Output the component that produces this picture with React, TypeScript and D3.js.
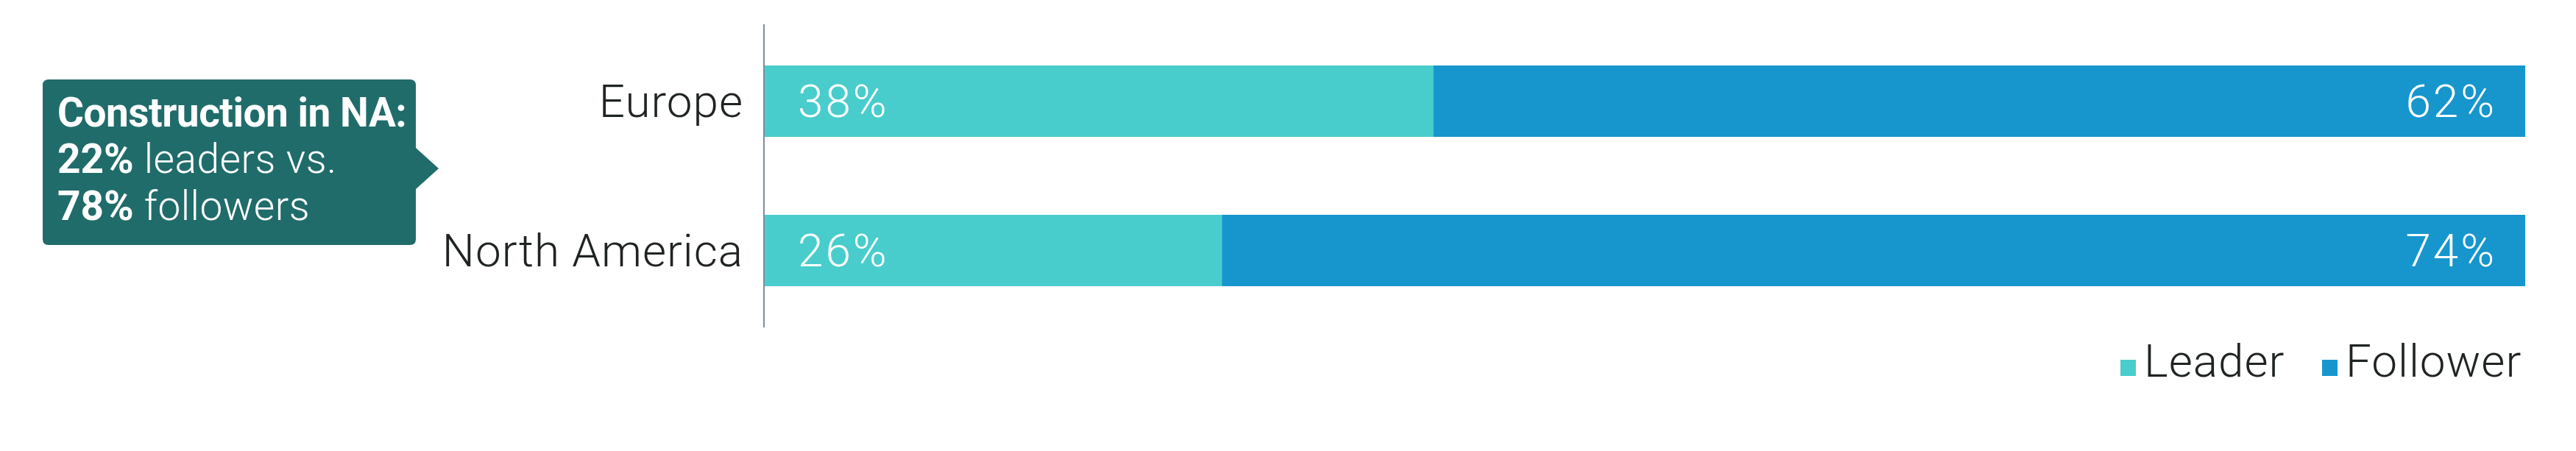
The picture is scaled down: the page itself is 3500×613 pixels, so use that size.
import * as d3 from "d3";
import React, { useEffect, useRef } from "react";

const categories = ["Europe", "North America"];
const seriesNames = ["Leader", "Follower"];
const leaderValues = [38, 26];
const followerValues = [62, 74];
const seriesColors = ["#48cdcc", "#1696cd"];
const calloutBold = ["Construction in NA:", "22%", "78%"];
const calloutRest = ["", " leaders vs.", " followers"];

const FONT = "Roboto, 'Liberation Sans', sans-serif";

export default function App() {
  const svgRef = useRef<SVGSVGElement>(null);

  const width = 3500;
  const height = 613;
  const marginLeft = 1038;
  const marginRight = 69;

  useEffect(() => {
    if (!svgRef.current) return;
    const svg = d3.select(svgRef.current);
    svg.selectAll("*").remove();

    const x = d3.scaleLinear([0, 100], [marginLeft, width - marginRight]);
    const y = d3
      .scaleBand<string>()
      .domain(categories)
      .range([33, 445])
      .paddingInner(0.522)
      .paddingOuter(0.276);

    // stacked data
    const rows = categories.map((c, i) => ({
      category: c,
      Leader: leaderValues[i],
      Follower: followerValues[i],
    }));
    const stacked = d3.stack<any>().keys(seriesNames)(rows);

    const layers = svg
      .append("g")
      .selectAll("g")
      .data(stacked)
      .join("g")
      .attr("fill", (_, i) => seriesColors[i]);

    layers
      .selectAll("rect")
      .data((d) => d)
      .join("rect")
      .attr("x", (d) => x(d[0]))
      .attr("width", (d) => x(d[1]) - x(d[0]))
      .attr("y", (d: any) => y(d.data.category)!)
      .attr("height", y.bandwidth());

    // value labels
    const labels = svg
      .append("g")
      .attr("font-family", FONT)
      .attr("font-weight", 300)
      .attr("font-size", 62)
      .attr("letter-spacing", 3)
      .attr("fill", "#fff");
    rows.forEach((r) => {
      const cy = y(r.category)! + y.bandwidth() / 2;
      labels
        .append("text")
        .attr("x", x(0) + 46)
        .attr("y", cy)
        .attr("dy", "0.35em")
        .text(`${r.Leader}%`);
      labels
        .append("text")
        .attr("x", x(100) - 39)
        .attr("y", cy)
        .attr("dy", "0.35em")
        .attr("text-anchor", "end")
        .text(`${r.Follower}%`);
    });

    // y axis
    svg
      .append("g")
      .attr("transform", `translate(${marginLeft},0)`)
      .call(d3.axisLeft(y).tickSize(0).tickPadding(28))
      .call((g) => g.select(".domain").attr("stroke", "#7b8da0").attr("stroke-width", 2).attr("d", "M0,33V445"))
      .call((g) =>
        g
          .selectAll(".tick text")
          .attr("font-family", FONT)
          .attr("font-weight", 300)
          .attr("font-size", 62)
          .attr("letter-spacing", 1)
          .attr("fill", "#1f2420")
          .attr("dy", "0.35em")
      );

    // legend
    const legendX = [2881, 3155];
    const legend = svg.append("g");
    seriesNames.forEach((s, i) => {
      legend
        .append("rect")
        .attr("x", legendX[i])
        .attr("y", 489)
        .attr("width", 21)
        .attr("height", 22)
        .attr("fill", seriesColors[i]);
      legend
        .append("text")
        .attr("x", legendX[i] + 32)
        .attr("y", 512)
        .attr("font-family", FONT)
        .attr("font-weight", 300)
        .attr("font-size", 62)
        .attr("letter-spacing", 1)
        .attr("fill", "#1f2420")
        .text(s);
    });

    // callout box
    const box = svg.append("g");
    box
      .append("path")
      .attr("fill", "#206c6b")
      .attr(
        "d",
        "M66,108 H557 Q565,108 565,116 V201 L596,229 L565,257 V325 Q565,333 557,333 H66 Q58,333 58,325 V116 Q58,108 66,108 Z"
      );
    const baselines = [172, 235, 299];
    calloutBold.forEach((b, i) => {
      const t = box
        .append("text")
        .attr("x", 78)
        .attr("y", baselines[i])
        .attr("font-family", FONT)
        .attr("font-size", 55)
        .attr("fill", "#fff");
      t.append("tspan").attr("font-weight", 700).attr("letter-spacing", i === 0 ? -0.5 : 0).text(b);
      if (calloutRest[i]) t.append("tspan").attr("font-weight", 300).attr("letter-spacing", 0.5).text(calloutRest[i]);
    });
  }, []);

  return (
    <svg
      ref={svgRef}
      width={width}
      height={height}
      viewBox={`0 0 ${width} ${height}`}
      style={{ position: "absolute", left: 0, top: 0, background: "#fff" }}
    />
  );
}
